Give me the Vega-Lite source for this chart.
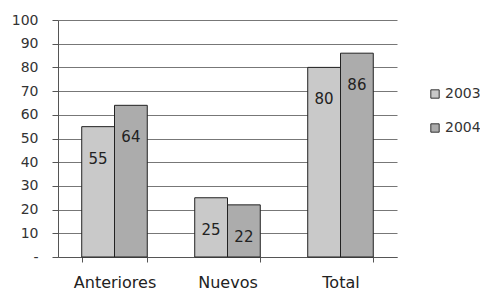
{
  "$schema": "https://vega.github.io/schema/vega-lite/v6.json",
  "autosize": "none",
  "width": 339,
  "height": 237,
  "padding": {"left": 58, "top": 20, "right": 83, "bottom": 36},
  "background": "white",
  "data": {"values": [
    {"cat": "Anteriores", "year": "2003", "value": 55},
    {"cat": "Anteriores", "year": "2004", "value": 64},
    {"cat": "Nuevos", "year": "2003", "value": 25},
    {"cat": "Nuevos", "year": "2004", "value": 22},
    {"cat": "Total", "year": "2003", "value": 80},
    {"cat": "Total", "year": "2004", "value": 86}
  ]},
  "encoding": {
    "x": {"field": "cat", "type": "nominal", "sort": null,
      "scale": {"paddingInner": 0.42, "paddingOuter": 0.21},
      "axis": {"title": null, "labelAngle": 0, "labelFont": "DejaVu Sans", "labelFontSize": 16, "labelColor": "#222", "labelPadding": 12,
        "domainColor": "#555", "tickColor": "#555", "tickBand": "extent", "tickSize": 5, "grid": false}},
    "xOffset": {"field": "year", "type": "nominal"},
    "y": {"field": "value", "type": "quantitative",
      "scale": {"domain": [0, 100]},
      "axis": {"title": null, "values": [0,10,20,30,40,50,60,70,80,90,100], "labelExpr": "datum.value == 0 ? '-' : datum.label",
        "labelFont": "DejaVu Sans", "labelFontSize": 14, "labelColor": "#333", "labelPadding": 14,
        "domainColor": "#555", "tickColor": "#555", "tickSize": 6, "gridColor": "#777", "gridWidth": 1}}
  },
  "layer": [
    {"mark": {"type": "bar", "stroke": "#222", "strokeWidth": 1},
     "encoding": {"color": {"field": "year", "type": "nominal",
        "scale": {"range": ["#c9c9c9", "#acacac"]},
        "legend": {"title": null, "orient": "none", "legendX": 370, "legendY": 67, "rowPadding": 20, "padding": 0,
          "symbolType": "square", "symbolSize": 70, "symbolStrokeColor": "#333", "symbolStrokeWidth": 1,
          "labelFont": "DejaVu Sans", "labelFontSize": 14, "labelColor": "#333", "labelOffset": 3}}}},
    {"mark": {"type": "text", "font": "DejaVu Sans", "fontSize": 15, "color": "#222", "baseline": "middle", "dy": 32},
     "encoding": {"text": {"field": "value", "type": "quantitative"}}}
  ],
  "config": {"view": {"stroke": null}}
}
